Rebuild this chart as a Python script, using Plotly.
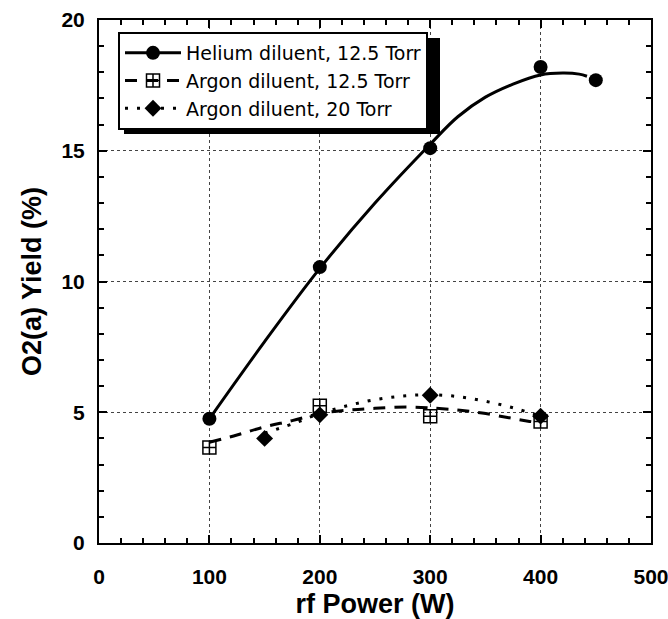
import plotly.graph_objects as go

# Measured data points
he_x = [100, 200, 300, 400, 450]
he_y = [4.75, 10.55, 15.1, 18.2, 17.7]
ar125_x = [100, 200, 300, 400]
ar125_y = [3.65, 5.25, 4.85, 4.65]
ar20_x = [150, 200, 300, 400]
ar20_y = [4.0, 4.9, 5.65, 4.85]

# Fitted curves
he_fit_x = [100, 150, 200, 250, 300, 325, 350, 375, 400, 420, 435, 442]
he_fit_y = [4.75, 7.7, 10.5, 13.0, 15.25, 16.3, 17.05, 17.55, 17.9, 17.97, 17.93, 17.85]
ar125_fit_x = [100, 125, 150, 175, 200, 225, 250, 280, 305, 327, 347, 370, 390, 400]
ar125_fit_y = [3.85, 4.13, 4.44, 4.68, 4.95, 5.08, 5.15, 5.2, 5.15, 5.08, 4.97, 4.8, 4.65, 4.6]
ar20_fit_x = [150, 175, 200, 225, 250, 275, 300, 325, 350, 375, 400]
ar20_fit_y = [4.2, 4.55, 4.95, 5.25, 5.48, 5.62, 5.67, 5.6, 5.42, 5.17, 4.85]

names = ["Helium diluent, 12.5 Torr", "Argon diluent, 12.5 Torr", "Argon diluent, 20 Torr"]

FONT = "Liberation Sans, Arial, sans-serif"
LEGFONT = "DejaVu Sans, Liberation Sans, sans-serif"
fig = go.Figure()

line_he = dict(color="black", width=3)
line_ar125 = dict(color="black", width=3, dash="12px,9px")
line_ar20 = dict(color="black", width=3, dash="3px,9px")
mk_he = dict(symbol="circle", size=14, color="black")
mk_ar125 = dict(symbol="square-cross-open", size=13, color="black", line=dict(width=1.5, color="black"))
mk_ar20 = dict(symbol="diamond", size=13, color="black")

fig.add_trace(go.Scatter(x=he_fit_x, y=he_fit_y, mode="lines", line=dict(line_he, shape="spline"), showlegend=False))
fig.add_trace(go.Scatter(x=ar125_fit_x, y=ar125_fit_y, mode="lines", line=dict(line_ar125, shape="spline"), showlegend=False))
fig.add_trace(go.Scatter(x=ar20_fit_x, y=ar20_fit_y, mode="lines", line=dict(line_ar20, shape="spline"), showlegend=False))

fig.add_trace(go.Scatter(x=he_x, y=he_y, mode="markers", marker=mk_he, showlegend=False))
fig.add_trace(go.Scatter(x=ar125_x, y=ar125_y, mode="markers", marker=mk_ar125, showlegend=False))
fig.add_trace(go.Scatter(x=ar20_x, y=ar20_y, mode="markers", marker=mk_ar20, showlegend=False))

# legend entries
fig.add_trace(go.Scatter(x=[None], y=[None], mode="lines+markers", line=line_he, marker=mk_he, name=names[0]))
fig.add_trace(go.Scatter(x=[None], y=[None], mode="lines+markers", line=line_ar125, marker=mk_ar125, name=names[1]))
fig.add_trace(go.Scatter(x=[None], y=[None], mode="lines+markers", line=line_ar20, marker=mk_ar20, name=names[2]))

L, R, T, B = 99, 17, 20, 76
W, H = 668, 619
pw, ph = W - L - R, H - T - B

def px2paper(x, y):
    return (x - L) / pw, (H - B - y) / ph

lx, ly = px2paper(118, 32)
# shadow behind legend
sx0, sy1 = px2paper(124, 38)
sx1, sy0 = px2paper(440, 134)
fig.add_shape(type="rect", xref="paper", yref="paper", x0=sx0, x1=sx1, y0=sy0, y1=sy1,
              fillcolor="black", line=dict(width=0), layer="above")

axis_common = dict(
    showline=True, linecolor="black", linewidth=2, mirror="ticks",
    ticks="inside", ticklen=8, tickwidth=1.5, tickcolor="black",
    showgrid=True, gridcolor="#444", gridwidth=1, griddash="dot",
    zeroline=False, ticklabeloverflow="allow",
    tickfont=dict(family=FONT, size=21, color="black", weight="bold"),
)

fig.update_xaxes(
    **axis_common, range=[0, 500], dtick=100, tick0=0,
    minor=dict(dtick=20, ticks="inside", ticklen=5, tickcolor="black", showgrid=False),
    ticklabelstandoff=14,
    title=dict(text="rf Power (W)", font=dict(family=FONT, size=27, color="black", weight="bold"), standoff=20),
)
fig.update_yaxes(
    **axis_common, range=[0, 20], dtick=5, tick0=0,
    minor=dict(dtick=1, ticks="inside", ticklen=5, tickcolor="black", showgrid=False),
    ticklabelstandoff=8,
    title=dict(text="O2(a) Yield (%)", font=dict(family=FONT, size=27, color="black", weight="bold"), standoff=12),
)

fig.update_layout(
    width=W, height=H,
    margin=dict(l=L, r=R, t=T, b=B, autoexpand=False),
    paper_bgcolor="white", plot_bgcolor="white",
    showlegend=True,
    legend=dict(x=lx, y=ly, xanchor="left", yanchor="top",
                bgcolor="white", bordercolor="black", borderwidth=2,
                font=dict(family=LEGFONT, size=19, color="black"),
                itemwidth=56, tracegroupgap=0),
)

fig.write_html("out.html")
